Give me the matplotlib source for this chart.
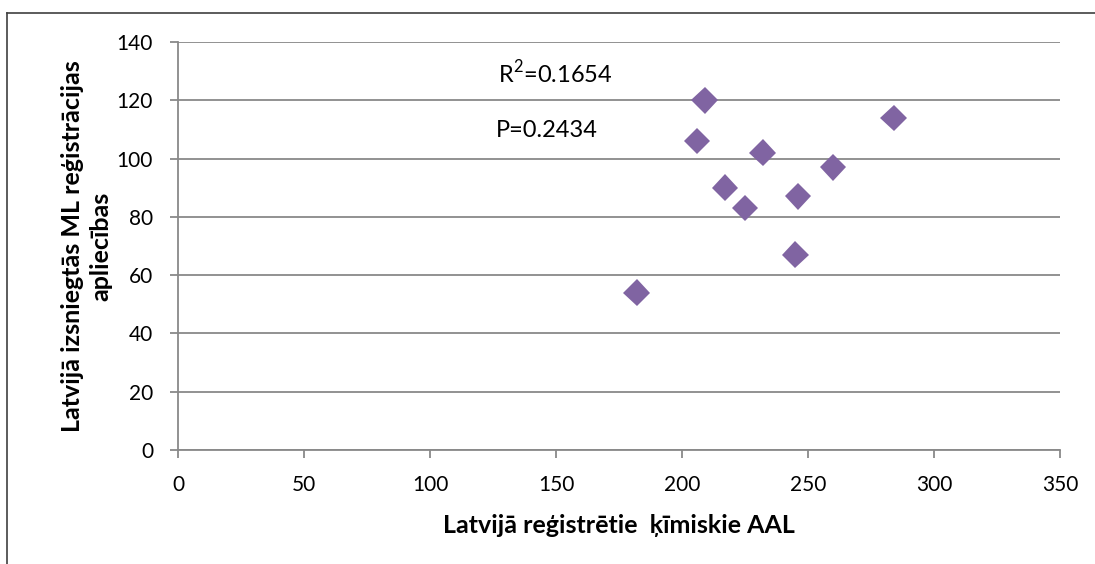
import matplotlib.pyplot as plt
import matplotlib.patheffects as pe
from matplotlib.lines import Line2D

plt.rcParams['font.family'] = ['Lato', 'DejaVu Sans']
plt.rcParams['mathtext.fontset'] = 'custom'
plt.rcParams['mathtext.rm'] = 'Lato'

# dati
aal = [182, 206, 209, 217, 225, 232, 245, 246, 260, 284]
ml = [54, 106, 120, 90, 83, 102, 67, 87, 97, 114]
r2_text = 'R$^\\mathregular{2}$=0.1654'
p_text = 'P=0.2434'
x_ticks = [0, 50, 100, 150, 200, 250, 300, 350]
y_ticks = [0, 20, 40, 60, 80, 100, 120, 140]

grid_col = '#898989'

fig = plt.figure(figsize=(10.95, 5.64), dpi=100)
ax = fig.add_axes([178 / 1095, 1 - 450 / 564, (1060 - 178) / 1095, (450 - 42) / 564])

# ārējais rāmis (augša un kreisā mala)
ytop = 1 - 13 / 564
xl = 7 / 1095
fig.lines.append(Line2D([xl, 1], [ytop, ytop], transform=fig.transFigure, color='#404040', linewidth=1.2))
fig.lines.append(Line2D([xl, xl], [0, ytop], transform=fig.transFigure, color='#404040', linewidth=1.2))

ax.plot(aal, ml, linestyle='none', marker='D', markersize=13.5,
        color='#8064A2', markeredgewidth=0, zorder=3,
        path_effects=[pe.SimpleLineShadow(offset=(1.5, -1.5), shadow_color='#9a9a9a', alpha=0.5), pe.Normal()])

ax.set_xlim(0, 350)
ax.set_ylim(0, 140)
ax.set_xticks(x_ticks)
ax.set_yticks(y_ticks)
ax.yaxis.grid(True, color=grid_col, linewidth=1.3)
ax.set_axisbelow(True)

for s in ['top', 'right']:
    ax.spines[s].set_visible(False)
for s in ['left', 'bottom']:
    ax.spines[s].set_color(grid_col)
    ax.spines[s].set_linewidth(1.3)
ax.tick_params(axis='both', colors=grid_col, width=1.3, length=6, labelcolor='black', labelsize=15)
ax.tick_params(axis='x', pad=12)
ax.tick_params(axis='y', pad=12)

ax.text(127, 129.5, r2_text, fontsize=17, va='center', ha='left')
ax.text(126, 109.5, p_text, fontsize=17, va='center', ha='left')

ax.set_xlabel('Latvijā reģistrētie  ķīmiskie AAL', fontsize=18, fontweight='bold', labelpad=14)
ax.set_ylabel('Latvijā izsniegtās ML reģistrācijas\napliecības', fontsize=18, fontweight='bold',
              labelpad=3, linespacing=1.3)

plt.savefig('out.png', dpi=100)
